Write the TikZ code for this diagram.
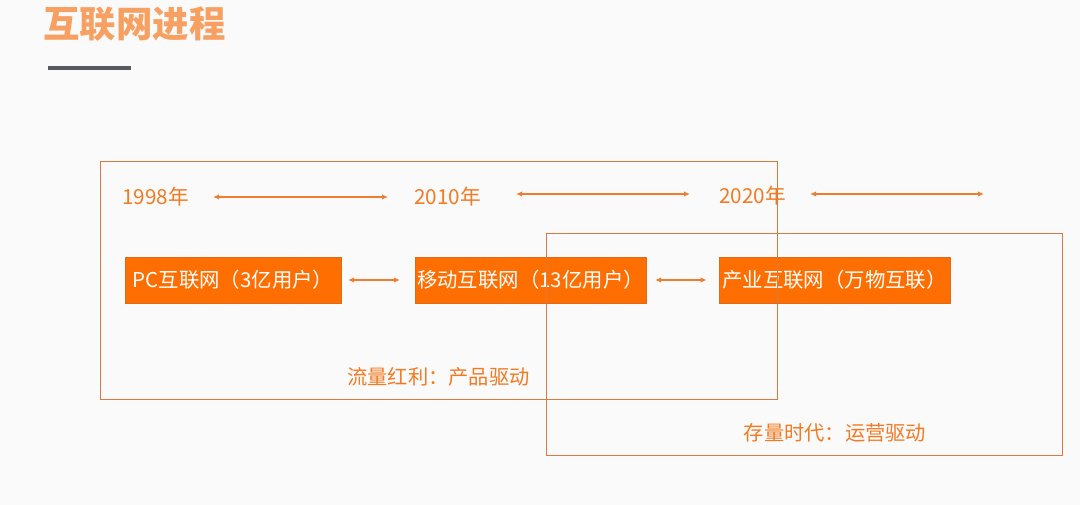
\documentclass[tikz,border=0pt]{standalone}
\usepackage{fontspec}
\setmainfont{Noto Sans CJK SC}
\usetikzlibrary{arrows.meta}
\definecolor{bg}{HTML}{FAFAFA}
\definecolor{titleor}{HTML}{F8A062}
\definecolor{txtor}{HTML}{F47A22}
\definecolor{arrowor}{HTML}{F07C2E}
\definecolor{boxfill}{HTML}{FF6E00}
\definecolor{boxedge}{HTML}{E0691A}
\definecolor{frameor}{HTML}{DB7A3E}
\definecolor{barcol}{HTML}{565A60}
\tikzset{
  yeartext/.style={inner sep=0pt, text=txtor, font=\fontsize{15.5pt}{18pt}\selectfont},
  stagebox/.style={draw=boxedge, line width=0.6pt, fill=boxfill, text=white, inner sep=0pt,
    minimum height=46*0.75pt, font=\fontsize{15.3pt}{17pt}\selectfont},
  frame/.style={draw=frameor, line width=1.1pt},
  dbl/.style={draw=arrowor, line width=1pt, {Latex[length=4.5pt,width=4pt]}-{Latex[length=4.5pt,width=4pt]}},
  phase/.style={inner sep=0pt, text=txtor, font=\fontsize{15.2pt}{18pt}\selectfont}
}
\begin{document}
\begin{tikzpicture}[x=0.75pt,y=-0.75pt]
\fill[bg] (0,0) rectangle (1080,505);
\useasboundingbox (0,0) rectangle (1080,505);
% title
\node[inner sep=0pt, text=titleor, font=\fontsize{27.3pt}{30pt}\selectfont\bfseries] (title) at (134.5,24) {互联网进程};
\draw[barcol, line width=3pt] (48,68) -- (131,68);
% years
\node[yeartext] (y1998) at (155.5,197) {1998年};
\node[yeartext] (y2010) at (447.5,197) {2010年};
\node[yeartext] (y2020) at (752.5,196) {2020年};
\coordinate (a1s) at (213,197); \coordinate (a1e) at (388,197);
\coordinate (a2s) at (516,194); \coordinate (a2e) at (690,194);
\coordinate (a3s) at (810,194); \coordinate (a3e) at (984,194);
\draw[dbl] (a1s) -- (a1e);
\draw[dbl] (a2s) -- (a2e);
\draw[dbl] (a3s) -- (a3e);
% stage boxes
\node[stagebox, minimum width=216*0.75pt] (pc) at (233,280) {PC互联网（3亿用户）};
\node[stagebox, minimum width=231*0.75pt] (mob) at (530.5,280) {移动互联网（13亿用户）};
\node[stagebox, minimum width=231*0.75pt] (ind) at (834.5,280) {产业互联网（万物互联）};
\draw[dbl, shorten <=5pt, shorten >=11pt] (pc.east) -- (mob.west);
\draw[dbl, shorten <=6.5pt, shorten >=9pt] (mob.east) -- (ind.west);
% frames
\node[frame, inner sep=0pt, minimum width=677*0.75pt, minimum height=238*0.75pt, anchor=north west] (f1) at (100,161) {};
\node[frame, inner sep=0pt, minimum width=516*0.75pt, minimum height=222*0.75pt, anchor=north west] (f2) at (546,233) {};
% phase labels
\node[phase] (p1) at (438.5,377) {流量红利：产品驱动};
\node[phase] (p2) at (835,433) {存量时代：运营驱动};
\end{tikzpicture}
\end{document}
